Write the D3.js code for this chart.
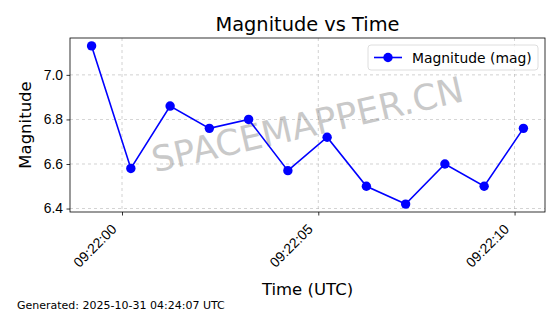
<!DOCTYPE html>
<html>
<head>
<meta charset="utf-8">
<script src="https://cdn.jsdelivr.net/npm/d3@7.9.0/dist/d3.min.js"></script>
<style>
  body { margin: 0; background: #fff; }
  svg { font-family: "DejaVu Sans", sans-serif; display: block; }
</style>
</head>
<body>
<svg id="chart" width="560" height="314"></svg>
<script>
// readings, one per second starting 09:21:59.225 UTC
const startTime = '2025-10-31T09:21:59.225Z';
const magnitudes = [7.13, 6.58, 6.86, 6.76, 6.80, 6.57, 6.72, 6.50, 6.42, 6.60, 6.50, 6.76];
const yTicks = [6.4, 6.6, 6.8, 7.0];
const xTickTimes = ['2025-10-31T09:22:00Z', '2025-10-31T09:22:05Z', '2025-10-31T09:22:10Z'];

const t0 = new Date(startTime).getTime();
const data = magnitudes.map((m, i) => ({ t: new Date(t0 + i * 1000), m }));

const svg = d3.select('#chart');
const plotL = 70, plotR = 545, plotT = 38, plotB = 212;

// matplotlib style 5% margins
const tExt = d3.extent(data, d => d.t.getTime());
const tPad = (tExt[1] - tExt[0]) * 0.05;
const x = d3.scaleUtc()
  .domain([new Date(tExt[0] - tPad), new Date(tExt[1] + tPad)])
  .range([plotL, plotR]);

const mExt = d3.extent(data, d => d.m);
const mPad = (mExt[1] - mExt[0]) * 0.05;
const y = d3.scaleLinear()
  .domain([mExt[0] - mPad, mExt[1] + mPad])
  .range([plotB, plotT]);

const xTicks = xTickTimes.map(s => new Date(s));

// grid
svg.append('g').selectAll('line').data(xTicks).join('line')
  .attr('x1', d => x(d)).attr('x2', d => x(d))
  .attr('y1', plotT).attr('y2', plotB)
  .attr('stroke', '#b0b0b0').attr('stroke-width', 0.8)
  .attr('stroke-dasharray', '3,3').attr('opacity', 0.7);
svg.append('g').selectAll('line').data(yTicks).join('line')
  .attr('x1', plotL).attr('x2', plotR)
  .attr('y1', d => y(d)).attr('y2', d => y(d))
  .attr('stroke', '#b0b0b0').attr('stroke-width', 0.8)
  .attr('stroke-dasharray', '3,3').attr('opacity', 0.7);

// watermark
svg.append('text')
  .attr('transform', `translate(${(plotL + plotR) / 2},${(plotT + plotB) / 2}) rotate(-13)`)
  .attr('text-anchor', 'middle')
  .attr('y', 12)
  .attr('font-size', 35.5)
  .attr('fill', '#808080').attr('opacity', 0.42)
  .text('SPACEMAPPER.CN');

// axes
const xAxis = d3.axisBottom(x).tickValues(xTicks).tickFormat(d3.utcFormat('%H:%M:%S'))
  .tickSize(3.5).tickPadding(3);
const gx = svg.append('g').attr('transform', `translate(0,${plotB})`).call(xAxis);
gx.select('.domain').remove();
gx.selectAll('line').attr('stroke', '#000').attr('stroke-width', 0.8);
gx.selectAll('text')
  .attr('font-size', 13.9).attr('fill', '#000')
  .attr('text-anchor', 'end')
  .attr('dy', null).attr('y', 0).attr('x', 0)
  .attr('transform', 'translate(-5,18) rotate(-45)');

const yAxis = d3.axisLeft(y).tickValues(yTicks).tickFormat(d3.format('.1f'))
  .tickSize(3.5).tickPadding(3.5);
const gy = svg.append('g').attr('transform', `translate(${plotL},0)`).call(yAxis);
gy.select('.domain').remove();
gy.selectAll('line').attr('stroke', '#000').attr('stroke-width', 0.8);
gy.selectAll('text').attr('font-size', 13.9).attr('fill', '#000');

svg.append('rect')
  .attr('x', plotL).attr('y', plotT)
  .attr('width', plotR - plotL).attr('height', plotB - plotT)
  .attr('fill', 'none').attr('stroke', '#000').attr('stroke-width', 0.8);

// series
const line = d3.line().x(d => x(d.t)).y(d => y(d.m));
svg.append('path').datum(data)
  .attr('d', line)
  .attr('fill', 'none').attr('stroke', '#0000ff').attr('stroke-width', 1.6);
svg.append('g').selectAll('circle').data(data).join('circle')
  .attr('cx', d => x(d.t)).attr('cy', d => y(d.m)).attr('r', 4.7)
  .attr('fill', '#0000ff');

// titles
svg.append('text').attr('x', (plotL + plotR) / 2).attr('y', 31)
  .attr('text-anchor', 'middle').attr('font-size', 19.4).text('Magnitude vs Time');
svg.append('text').attr('x', (plotL + plotR) / 2).attr('y', 295)
  .attr('text-anchor', 'middle').attr('font-size', 16.5).text('Time (UTC)');
svg.append('text')
  .attr('transform', `translate(31,${(plotT + plotB) / 2}) rotate(-90)`)
  .attr('text-anchor', 'middle').attr('font-size', 16.5).text('Magnitude');
svg.append('text').attr('x', 17).attr('y', 309)
  .attr('font-size', 11).text('Generated: 2025-10-31 04:24:07 UTC');

// legend
const lg = svg.append('g').attr('transform', 'translate(368,45)');
lg.append('rect').attr('width', 170).attr('height', 25).attr('rx', 3)
  .attr('fill', '#fff').attr('fill-opacity', 0.8)
  .attr('stroke', '#d6d6d6').attr('stroke-width', 0.8);
lg.append('line').attr('x1', 6).attr('x2', 34).attr('y1', 12.5).attr('y2', 12.5)
  .attr('stroke', '#0000ff').attr('stroke-width', 1.6);
lg.append('circle').attr('cx', 20).attr('cy', 12.5).attr('r', 4.7).attr('fill', '#0000ff');
lg.append('text').attr('x', 44).attr('y', 17.5).attr('font-size', 13.9).text('Magnitude (mag)');
</script>
</body>
</html>
